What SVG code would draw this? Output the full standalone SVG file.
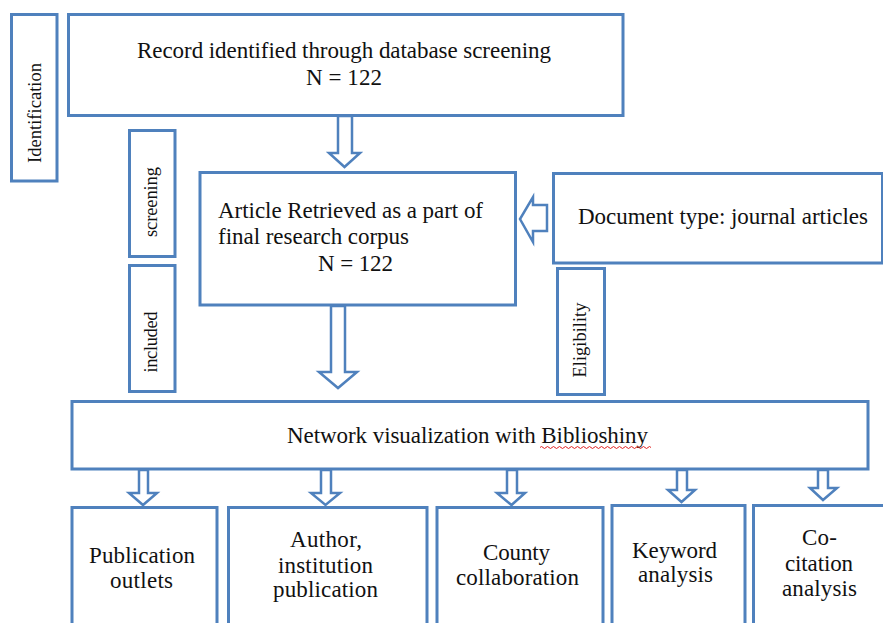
<svg xmlns="http://www.w3.org/2000/svg" width="883" height="623" viewBox="0 0 883 623">
<style>
.box{fill:#fff;stroke:#4F81BD;stroke-width:3}
.arr{fill:#fff;stroke:#4F81BD;stroke-width:2.5;stroke-linejoin:miter}
text{font-family:"Liberation Serif","Times New Roman",serif;fill:#111;font-size:23px}
.v{font-size:18.5px}
.m{text-anchor:middle}
</style>
<rect width="883" height="623" fill="#fff"/>
<g id="identification"><rect class="box" x="11.5" y="14.5" width="45.5" height="166.5"/><text class="v m" transform="translate(34,113) rotate(-90)" y="7" textLength="100" lengthAdjust="spacing">Identification</text></g>
<g id="record"><rect class="box" x="68.5" y="14.5" width="554.5" height="101"/><text x="137" y="58" textLength="414" lengthAdjust="spacing">Record identified through database screening</text><text x="306" y="85" textLength="76" lengthAdjust="spacing">N = 122</text></g>
<g id="screening"><rect class="box" x="129.5" y="130.5" width="45.5" height="126"/><text class="v m" transform="translate(152,202) rotate(-90)" y="5" textLength="70" lengthAdjust="spacing">screening</text></g>
<g id="included"><rect class="box" x="129.5" y="265.5" width="45.5" height="126"/><text class="v m" transform="translate(152,342) rotate(-90)" y="5" textLength="61" lengthAdjust="spacing">included</text></g>
<g id="article"><rect class="box" x="200" y="172.5" width="315.5" height="132.5"/><text x="218" y="218" textLength="265" lengthAdjust="spacing">Article Retrieved as a part of</text><text x="218" y="244" textLength="191" lengthAdjust="spacing">final research corpus</text><text x="318" y="271" textLength="75" lengthAdjust="spacing">N = 122</text></g>
<g id="document"><rect class="box" x="553.5" y="173.5" width="329" height="89.5"/><text x="578" y="224" textLength="290" lengthAdjust="spacing">Document type: journal articles</text></g>
<g id="eligibility"><rect class="box" x="557.5" y="268.5" width="47" height="126"/><text class="v m" transform="translate(581,340) rotate(-90)" y="5" textLength="75" lengthAdjust="spacing">Eligibility</text></g>
<g id="network"><rect class="box" x="72" y="401.5" width="796" height="67.5"/><text x="287" y="443" textLength="361" lengthAdjust="spacing">Network visualization with Biblioshiny</text><path d="M540 447.5 q1.5 -2 3 0 t3 0 t3 0 t3 0 t3 0 t3 0 t3 0 t3 0 t3 0 t3 0 t3 0 t3 0 t3 0 t3 0 t3 0 t3 0 t3 0 t3 0 t3 0 t3 0 t3 0 t3 0 t3 0 t3 0 t3 0 t3 0 t3 0 t3 0 t3 0 t3 0 t3 0 t3 0 t3 0 t3 0 t3 0 t3 0 t3 0" fill="none" stroke="#e02020" stroke-width="1"/></g>
<g id="pub"><rect class="box" x="72" y="507.5" width="145" height="125"/><text class="m" x="142" y="563" textLength="106" lengthAdjust="spacing">Publication</text><text class="m" x="141.5" y="588" textLength="63" lengthAdjust="spacing">outlets</text></g>
<g id="author"><rect class="box" x="228.5" y="507.5" width="198.5" height="125"/><text class="m" x="326" y="547" textLength="72" lengthAdjust="spacing">Author,</text><text class="m" x="325.5" y="573" textLength="95" lengthAdjust="spacing">institution</text><text class="m" x="325.5" y="597" textLength="105" lengthAdjust="spacing">publication</text></g>
<g id="county"><rect class="box" x="437" y="507.5" width="166" height="125"/><text class="m" x="516.5" y="560" textLength="67" lengthAdjust="spacing">County</text><text class="m" x="517.5" y="585" textLength="123" lengthAdjust="spacing">collaboration</text></g>
<g id="keyword"><rect class="box" x="612" y="505.5" width="133" height="127"/><text class="m" x="674.5" y="558" textLength="85" lengthAdjust="spacing">Keyword</text><text class="m" x="675.5" y="582" textLength="75" lengthAdjust="spacing">analysis</text></g>
<g id="cocitation"><rect class="box" x="753.5" y="505.5" width="140" height="127"/><text class="m" x="819.5" y="545" textLength="35" lengthAdjust="spacing">Co-</text><text class="m" x="819" y="571" textLength="68" lengthAdjust="spacing">citation</text><text class="m" x="819.5" y="596" textLength="75" lengthAdjust="spacing">analysis</text></g>
<g id="connectors">
<polygon class="arr" points="338,116 352,116 352,153 360,153 344.5,167 329,153 338,153"/>
<polygon class="arr" points="331,306 345,306 345,372 357,372 338,388 319,372 331,372"/>
<polygon class="arr" points="547,205 533,205 533,197 520,219 533,242 533,231 547,231"/>
<polygon class="arr" points="139,470 148,470 148,493 157,493 143,505 129,493 139,493"/>
<polygon class="arr" points="321,470 331,470 331,493 340,493 325.5,505 311,493 321,493"/>
<polygon class="arr" points="507,470 517,470 517,493 525,493 511.5,505 497,493 507,493"/>
<polygon class="arr" points="677,470 687,470 687,490 695,490 681.5,502 668,490 677,490"/>
<polygon class="arr" points="818,470 828,470 828,488 837,488 823,500 810,488 818,488"/>
</g>
</svg>
